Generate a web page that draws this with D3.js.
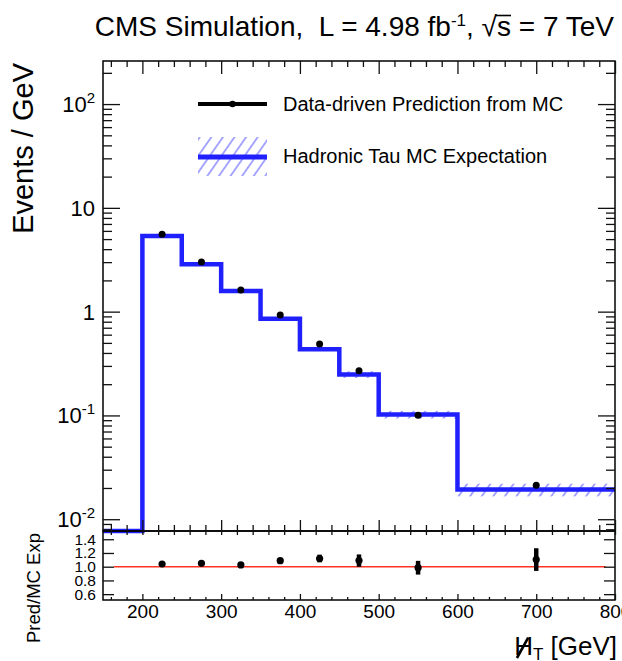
<!DOCTYPE html>
<html>
<head>
<meta charset="utf-8">
<script src="https://cdn.jsdelivr.net/npm/d3@7"></script>
<style>
  body { margin: 0; background: #fff; }
  text { font-family: "Liberation Sans", Arial, Helvetica, sans-serif; fill: #000; }
</style>
</head>
<body>
<svg id="chart" width="622" height="661"></svg>
<script>
// Missing-HT binning (GeV)
const binEdges = [150, 200, 250, 300, 350, 400, 450, 500, 600, 800];
// Hadronic tau MC expectation, events / GeV (first bin empty)
const mcExpectation = [0, 5.37, 2.86, 1.58, 0.855, 0.435, 0.248, 0.102, 0.0193];
const mcRelUncertainty = [0, 0.015, 0.02, 0.025, 0.03, 0.04, 0.075, 0.085, 0.14];
// Data-driven prediction at bin centres, events / GeV
const predBinCenters = [225, 275, 325, 375, 425, 475, 550, 700];
const predValues = [5.58, 3.0, 1.62, 0.93, 0.487, 0.27, 0.1005, 0.0213];
const predRelUncertainty = [0.01, 0.01, 0.012, 0.015, 0.02, 0.03, 0.04, 0.05];
// Uncertainty on Pred / MC ratio
const ratioUncertainty = [0.01, 0.012, 0.012, 0.02, 0.056, 0.09, 0.1, 0.165];
// Tick labels
const xTickLabels = [200, 300, 400, 500, 600, 700, 800];
const yTickDecades = [-2, -1, 0, 1, 2];
const ratioTickLabels = [0.6, 0.8, 1.0, 1.2, 1.4];
const ratioReference = { value: 1.0, from: 164, to: 788 };

const svg = d3.select("#chart");
const blue = "#2020ff";

const mainTop = 61, mainBottom = 531, ratioBottom = 600;
const left = 103, right = 615;

const x = d3.scaleLinear().domain([150, 800]).range([left, right]);
const y = d3.scaleLog().domain([0.0077, 260]).range([mainBottom, mainTop]);
const yr = d3.scaleLinear().domain([0.515, 1.52]).range([ratioBottom, mainBottom]);
const yMin = y.domain()[0];

// hatch pattern for MC uncertainty
const defs = svg.append("defs");
defs.append("pattern")
  .attr("id", "hatch")
  .attr("patternUnits", "userSpaceOnUse")
  .attr("width", 9.5).attr("height", 9.5)
  .attr("patternTransform", "rotate(35)")
  .append("line")
  .attr("x1", 4.75).attr("y1", 0).attr("x2", 4.75).attr("y2", 9.5)
  .attr("stroke", "#6d6dff").attr("stroke-width", 1.2);

// ---------- main panel ----------
const bins = mcExpectation.map((v, i) => ({ x0: binEdges[i], x1: binEdges[i + 1], v, e: mcRelUncertainty[i] }));

svg.append("g").selectAll("rect")
  .data(bins.filter(b => b.v > 0))
  .join("rect")
  .attr("x", b => x(b.x0))
  .attr("width", b => x(b.x1) - x(b.x0))
  .attr("y", b => y(b.v * (1 + b.e)))
  .attr("height", b => y(b.v * (1 - b.e)) - y(b.v * (1 + b.e)))
  .attr("fill", "url(#hatch)");

const stepPts = [];
bins.forEach(b => { stepPts.push([b.x0, b.v]); stepPts.push([b.x1, b.v]); });
svg.append("path")
  .attr("d", d3.line().x(d => x(d[0])).y(d => y(Math.max(d[1], yMin)))(stepPts))
  .attr("fill", "none")
  .attr("stroke", blue)
  .attr("stroke-width", 4.5)
  .attr("stroke-linejoin", "miter");

const preds = predBinCenters.map((c, i) => ({
  c, v: predValues[i], e: predRelUncertainty[i],
  r: predValues[i] / mcExpectation[i + 1], re: ratioUncertainty[i]
}));

const gPts = svg.append("g");
gPts.selectAll("line")
  .data(preds).join("line")
  .attr("x1", d => x(d.c)).attr("x2", d => x(d.c))
  .attr("y1", d => y(d.v * (1 + d.e))).attr("y2", d => y(d.v * (1 - d.e)))
  .attr("stroke", "#000").attr("stroke-width", 4);
gPts.selectAll("circle")
  .data(preds).join("circle")
  .attr("cx", d => x(d.c)).attr("cy", d => y(d.v)).attr("r", 3.5)
  .attr("fill", "#000");

// ---------- ratio panel ----------
svg.append("line")
  .attr("x1", x(ratioReference.from)).attr("x2", x(ratioReference.to))
  .attr("y1", yr(ratioReference.value)).attr("y2", yr(ratioReference.value))
  .attr("stroke", "#ff3322").attr("stroke-width", 1.5);

const gR = svg.append("g");
gR.selectAll("line")
  .data(preds).join("line")
  .attr("x1", d => x(d.c)).attr("x2", d => x(d.c))
  .attr("y1", d => yr(d.r + d.re)).attr("y2", d => yr(d.r - d.re))
  .attr("stroke", "#000").attr("stroke-width", 4.5);
gR.selectAll("circle")
  .data(preds).join("circle")
  .attr("cx", d => x(d.c)).attr("cy", d => yr(d.r)).attr("r", 3.6)
  .attr("fill", "#000");

// ---------- frames ----------
svg.append("rect").attr("x", left).attr("y", mainTop)
  .attr("width", right - left).attr("height", mainBottom - mainTop)
  .attr("fill", "none").attr("stroke", "#000").attr("stroke-width", 1.5);
svg.append("rect").attr("x", left).attr("y", mainBottom)
  .attr("width", right - left).attr("height", ratioBottom - mainBottom)
  .attr("fill", "none").attr("stroke", "#000").attr("stroke-width", 1.5);

// ---------- ticks ----------
const xMinor = d3.range(160, 801, 20).filter(v => v % 100 !== 0);
const xMajor = xTickLabels;

function styleAxis(g) {
  g.select(".domain").remove();
  g.selectAll(".tick line").attr("stroke", "#111").attr("stroke-width", 1.3);
  return g;
}
function addAxis(axis, tx, ty) {
  return svg.append("g").attr("transform", `translate(${tx},${ty})`).call(axis).call(styleAxis);
}

// main panel x ticks (top and bottom, inward)
addAxis(d3.axisTop(x).tickValues(xMinor).tickSize(-6).tickFormat(""), 0, mainTop);
addAxis(d3.axisTop(x).tickValues(xMajor).tickSize(-13).tickFormat(""), 0, mainTop);
addAxis(d3.axisBottom(x).tickValues(xMinor).tickSize(-6).tickFormat(""), 0, mainBottom);
addAxis(d3.axisBottom(x).tickValues(xMajor).tickSize(-11).tickFormat(""), 0, mainBottom);

// main panel log ticks
const logMajor = yTickDecades.map(p => Math.pow(10, p));
const logMinor = [];
for (let p = -3; p <= 2; p++) {
  for (let m = 2; m <= 9; m++) {
    const v = m * Math.pow(10, p);
    if (v >= y.domain()[0] && v <= y.domain()[1]) logMinor.push(v);
  }
}
addAxis(d3.axisLeft(y).tickValues(logMinor).tickSize(-9).tickFormat(""), left, 0);
addAxis(d3.axisLeft(y).tickValues(logMajor).tickSize(-17).tickFormat(""), left, 0);
addAxis(d3.axisRight(y).tickValues(logMinor).tickSize(-9).tickFormat(""), right, 0);
addAxis(d3.axisRight(y).tickValues(logMajor).tickSize(-17).tickFormat(""), right, 0);

// main y labels with exponents
const yLab = svg.append("g");
yTickDecades.forEach(p => {
  const t = yLab.append("text")
    .attr("x", 95).attr("y", y(Math.pow(10, p)) + 8)
    .attr("text-anchor", "end")
    .attr("font-size", 22);
  if (p === 0) t.text("1");
  else if (p === 1) t.text("10");
  else {
    t.append("tspan").text("10");
    t.append("tspan").attr("font-size", 15).attr("dy", -9).text(String(p));
  }
});

// ratio panel ticks
addAxis(d3.axisTop(x).tickValues(xMinor.concat(xMajor)).tickSize(-4).tickFormat(""), 0, mainBottom);
addAxis(d3.axisBottom(x).tickValues(xMinor).tickSize(-3).tickFormat(""), 0, ratioBottom);
const xLab = addAxis(d3.axisBottom(x).tickValues(xMajor).tickSize(-6).tickPadding(5).tickFormat(d3.format("d")), 0, ratioBottom);
xLab.selectAll("text").attr("font-size", 19).attr("font-family", "Liberation Sans, Arial, sans-serif");

addAxis(d3.axisRight(yr).tickValues(ratioTickLabels).tickSize(-11).tickFormat(""), right, 0);
const yrLab = addAxis(d3.axisLeft(yr).tickValues(ratioTickLabels).tickSize(-11).tickPadding(7).tickFormat(d3.format(".1f")), left, 0);
yrLab.selectAll("text").attr("font-size", 15.5).attr("font-family", "Liberation Sans, Arial, sans-serif");

// ---------- axis titles ----------
svg.append("text")
  .attr("transform", "translate(33,63) rotate(-90)")
  .attr("text-anchor", "end")
  .attr("font-size", 29)
  .text("Events / GeV");

svg.append("text")
  .attr("transform", "translate(40,533) rotate(-90)")
  .attr("text-anchor", "end")
  .attr("font-size", 18.5)
  .text("Pred/MC Exp");

const xt = svg.append("text")
  .attr("x", 617).attr("y", 655)
  .attr("text-anchor", "end")
  .attr("font-size", 26)
  .style("white-space", "pre");
xt.append("tspan").text("H");
xt.append("tspan").attr("font-size", 17).attr("dy", 5).text("T");
xt.append("tspan").attr("dy", -5).text(" [GeV]");
{
  const ext = xt.node().getExtentOfChar(0);
  svg.append("line")
    .attr("x1", ext.x + ext.width * 0.15).attr("y1", ext.y + ext.height * 0.9)
    .attr("x2", ext.x + ext.width * 0.75).attr("y2", ext.y + ext.height * 0.22)
    .attr("stroke", "#000").attr("stroke-width", 2.6);
}

// ---------- header ----------
const title = svg.append("text")
  .attr("x", 614).attr("y", 36)
  .attr("text-anchor", "end")
  .attr("font-size", 28)
  .style("white-space", "pre");
title.append("tspan").text("CMS Simulation,  L = 4.98 fb");
title.append("tspan").attr("font-size", 17).attr("dy", -10).text("-1");
title.append("tspan").attr("dy", 10).text(", √");
title.append("tspan").text("s = 7 TeV");
{
  const idx = "CMS Simulation,  L = 4.98 fb".length + 2 + 3;
  const ext = title.node().getExtentOfChar(idx);
  svg.append("line")
    .attr("x1", ext.x - 1).attr("x2", ext.x + ext.width)
    .attr("y1", 15.5).attr("y2", 15.5)
    .attr("stroke", "#000").attr("stroke-width", 1.6);
}

// ---------- legend ----------
const lg = svg.append("g");
lg.append("line").attr("x1", 198).attr("x2", 267).attr("y1", 104).attr("y2", 104)
  .attr("stroke", "#000").attr("stroke-width", 4);
lg.append("circle").attr("cx", 232.5).attr("cy", 104).attr("r", 3.3).attr("fill", "#000");
lg.append("text").attr("x", 283).attr("y", 111).attr("font-size", 20)
  .text("Data-driven Prediction from MC");

lg.append("rect").attr("x", 198).attr("y", 137).attr("width", 69).attr("height", 39)
  .attr("fill", "url(#hatch)");
lg.append("line").attr("x1", 198).attr("x2", 267).attr("y1", 157).attr("y2", 157)
  .attr("stroke", blue).attr("stroke-width", 5);
lg.append("text").attr("x", 283).attr("y", 163).attr("font-size", 20)
  .text("Hadronic Tau MC Expectation");
</script>
</body>
</html>
